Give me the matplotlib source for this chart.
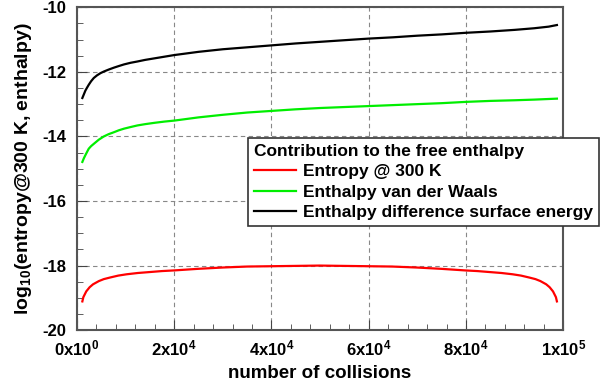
import matplotlib
matplotlib.use("Agg")
import matplotlib.pyplot as plt
from matplotlib.ticker import MultipleLocator

plt.rcParams['font.family'] = ['Liberation Sans', 'DejaVu Sans']
plt.rcParams['font.weight'] = 'bold'
plt.rcParams['axes.unicode_minus'] = False
plt.rcParams['mathtext.fontset'] = 'custom'
plt.rcParams['mathtext.rm'] = 'Liberation Sans:bold'
plt.rcParams['mathtext.bf'] = 'Liberation Sans:bold'
plt.rcParams['mathtext.default'] = 'rm'

# Data
entropy_x = [1100, 1300, 1900, 2600, 3300, 4500, 5500, 6800, 8500, 10200,
             12500, 15000, 17500, 20000, 25000, 30000, 35000, 40000, 45000, 49900,
             54800, 59800, 64800, 69800, 74800, 79800, 82300, 84800, 87300, 89600,
             91300, 93000, 94300, 95300, 96500, 97200, 97900, 98500, 98700]
entropy_y = [-19.11, -18.98, -18.80, -18.67, -18.58, -18.48, -18.42, -18.37, -18.31, -18.27,
             -18.23, -18.20, -18.17, -18.15, -18.10, -18.06, -18.03, -18.02, -18.01, -18.00,
             -18.01, -18.02, -18.03, -18.06, -18.10, -18.15, -18.17, -18.20, -18.23, -18.27,
             -18.31, -18.37, -18.42, -18.48, -18.58, -18.67, -18.80, -18.98, -19.11]

vdw_x = [1100, 1400, 1725, 2100, 2415, 2900, 3450, 4485, 5520, 6500,
         7590, 8600, 9660, 11000, 12420, 14000, 15870, 18000, 20000, 25000,
         30000, 35000, 40000, 45000, 50000, 55000, 60000, 65000, 70000, 75000,
         80000, 85000, 90000, 94000, 98700]
vdw_y = [-14.79, -14.68, -14.58, -14.47, -14.38, -14.30, -14.23, -14.10, -14.00, -13.93,
         -13.87, -13.81, -13.76, -13.71, -13.66, -13.62, -13.58, -13.54, -13.51, -13.41,
         -13.33, -13.26, -13.21, -13.16, -13.12, -13.09, -13.06, -13.03, -13.00, -12.97,
         -12.93, -12.90, -12.88, -12.86, -12.83]

surf_x = [1100, 1400, 1725, 2100, 2415, 2900, 3450, 4100, 4830, 5520,
          6500, 7590, 8600, 9660, 11000, 12400, 14000, 16000, 18000, 20000,
          25000, 30000, 35000, 40000, 45000, 50000, 55000, 60000, 65000, 70000,
          75000, 80000, 85000, 90000, 94000, 97000, 98700]
surf_y = [-12.81, -12.70, -12.58, -12.48, -12.40, -12.29, -12.19, -12.11, -12.04, -11.99,
          -11.93, -11.87, -11.82, -11.77, -11.72, -11.68, -11.63, -11.58, -11.53, -11.48,
          -11.38, -11.30, -11.24, -11.18, -11.12, -11.07, -11.02, -10.97, -10.93, -10.88,
          -10.84, -10.79, -10.75, -10.70, -10.65, -10.60, -10.55]

xticks = [0, 20000, 40000, 60000, 80000, 100000]
xticklabels = ['0x10$^{0}$', '2x10$^{4}$', '4x10$^{4}$', '6x10$^{4}$', '8x10$^{4}$', '1x10$^{5}$']
yticks = [-20, -18, -16, -14, -12, -10]

fig = plt.figure(figsize=(6.04, 3.83), dpi=100)
ax = fig.add_axes([0.1275, 0.138, 0.805, 0.843])

ax.plot(entropy_x, entropy_y, color='#ff0000', lw=1.6, label='Entropy @ 300 K')
ax.plot(vdw_x, vdw_y, color='#00ee00', lw=1.6, label='Enthalpy van der Waals')
ax.plot(surf_x, surf_y, color='black', lw=1.6, label='Enthalpy difference surface energy')

ax.set_xlim(0, 100000)
ax.set_ylim(-20, -10)
ax.set_xticks(xticks)
ax.set_xticklabels(xticklabels)
ax.set_yticks(yticks)
ax.xaxis.set_minor_locator(MultipleLocator(4000))
ax.yaxis.set_minor_locator(MultipleLocator(0.5))
ax.tick_params(which='both', direction='in', top=False, right=False,
               labelsize=12, color='#444444')
ax.tick_params(which='major', length=7)
ax.tick_params(axis='x', which='major', pad=6)
ax.tick_params(axis='y', which='major', pad=8)
ax.tick_params(which='minor', length=4)
ax.grid(True, which='major', ls=(0, (4, 3)), color='#888888', lw=0.8)
for sp in ax.spines.values():
    sp.set_color('#555555')
    sp.set_linewidth(1.5)

ax.set_xlabel('number of collisions', fontsize=13.5, fontweight='bold')
ax.xaxis.set_label_coords(0.5, -0.108)
ax.set_ylabel('log$_{10}$(entropy@300 K, enthalpy)', fontsize=14, fontweight='bold', labelpad=6)

leg = ax.legend(title='Contribution to the free enthalpy', loc='upper left',
                bbox_to_anchor=(0.4106, 0.6397), bbox_transform=fig.transFigure,
                fontsize=12.5, title_fontsize=12.5, handlelength=2.4, handletextpad=0.4,
                borderpad=0.35, borderaxespad=0, labelspacing=0.3, fancybox=False, framealpha=1,
                edgecolor='#333333', alignment='left')
leg.get_title().set_fontweight('bold')
leg.get_frame().set_linewidth(1.2)
for t in leg.get_texts():
    t.set_fontweight('bold')

fig.savefig('out.png', dpi=100)
